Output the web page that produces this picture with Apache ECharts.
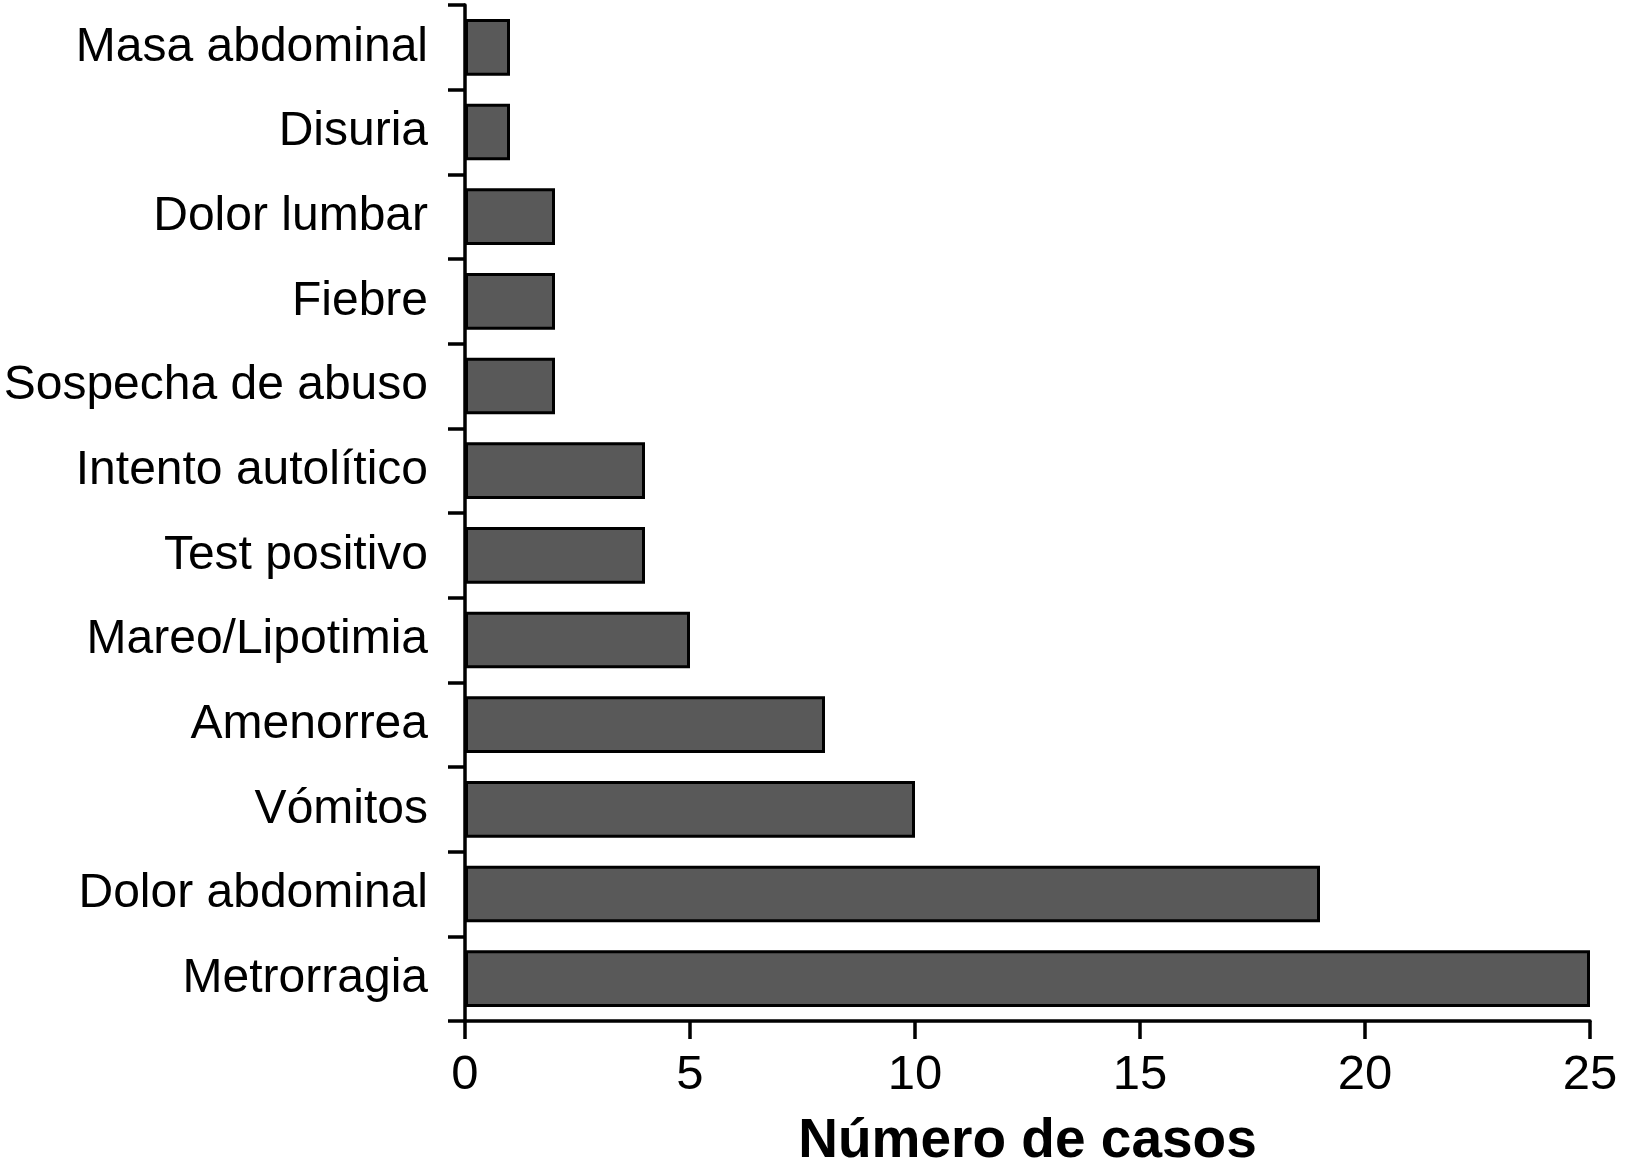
<!DOCTYPE html>
<html>
<head>
<meta charset="utf-8">
<script src="https://cdn.jsdelivr.net/npm/echarts@6/dist/echarts.min.js"></script>
<style>html,body{margin:0;padding:0;background:#fff}#c{width:1625px;height:1174px}</style>
</head>
<body>
<div id="c"></div>
<script>
const categories = ["Masa abdominal","Disuria","Dolor lumbar","Fiebre","Sospecha de abuso","Intento autolítico","Test positivo","Mareo/Lipotimia","Amenorrea","Vómitos","Dolor abdominal","Metrorragia"];
const casos = [1,1,2,2,2,4,4,5,8,10,19,25];
const xTicks = [0,5,10,15,20,25];
const axisName = "Número de casos";

const chart = echarts.init(document.getElementById('c'), null, {renderer:'canvas'});
chart.setOption({
  animation:false,
  backgroundColor:'#fff',
  grid:{left:465,right:35,top:5,bottom:153,containLabel:false,outerBoundsMode:'none'},
  xAxis:{
    type:'value',min:xTicks[0],max:xTicks[xTicks.length-1],interval:5,
    name:axisName,nameLocation:'middle',nameGap:93,
    nameTextStyle:{fontFamily:'Liberation Sans',fontWeight:'bold',fontSize:55,color:'#000'},
    axisLine:{show:true,lineStyle:{color:'#000',width:3.5}},
    axisTick:{show:true,length:18,lineStyle:{color:'#000',width:3.5}},
    axisLabel:{fontFamily:'Liberation Sans',fontSize:49,color:'#000',margin:30},
    splitLine:{show:false}
  },
  yAxis:{
    type:'category',data:categories,inverse:true,
    axisLine:{show:true,lineStyle:{color:'#000',width:3.5}},
    axisTick:{show:true,length:17,lineStyle:{color:'#000',width:3.5}},
    axisLabel:{fontFamily:'Liberation Sans',fontSize:48,color:'#000',margin:37},
    splitLine:{show:false}
  },
  series:[{
    type:'bar',data:casos,barCategoryGap:'33%',
    itemStyle:{color:'#595959',borderColor:'#000',borderWidth:3}
  }]
});
</script>
</body>
</html>
